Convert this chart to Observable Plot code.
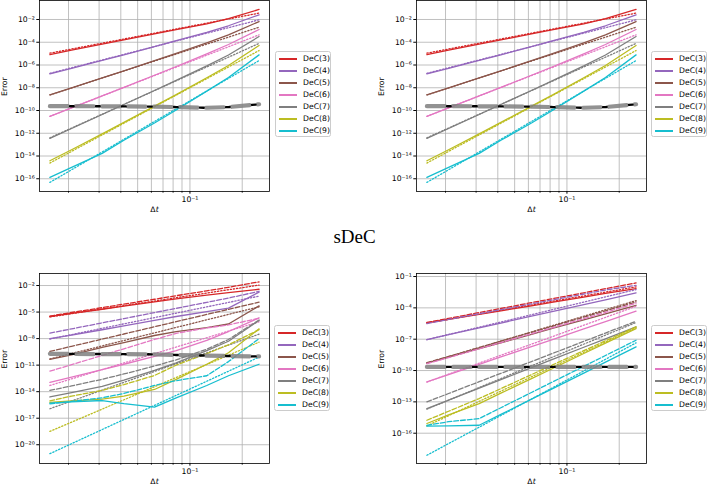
<!DOCTYPE html>
<html><head><meta charset="utf-8">
<script src="https://cdn.jsdelivr.net/npm/d3@7"></script>
<script src="https://cdn.jsdelivr.net/npm/@observablehq/plot@0.6"></script>
<style>
body{margin:0;background:#fff;}
#wrap{position:relative;width:709px;height:486px;overflow:hidden;font-family:"DejaVu Sans",sans-serif;background:#fff;}
.panel{position:absolute;}
.legend{position:absolute;background:rgba(255,255,255,0.85);border:0.8px solid #cccccc;border-radius:2.5px;box-sizing:border-box;font-size:7.7px;color:#000;width:56px;height:86px;}
.legend .row{position:absolute;left:0;width:100%;height:12px;}
.legend .sw{position:absolute;left:3px;top:5.4px;width:18px;height:1.4px;}
.legend .lab{position:absolute;left:27px;top:0;line-height:12px;white-space:nowrap;}
#title{position:absolute;left:0;width:709px;text-align:center;top:226px;line-height:22px;font-family:"Liberation Serif",serif;font-size:19px;}
</style></head><body><div id="wrap"><div id="title">sDeC</div></div>
<script>
// ---- data (errors given as log10 exponents) ----
const dt = [1/64, 1/48, 1/32, 1/24, 1/16, 1/12, 1/8, 1/6, 1/4];
const dtEnds = [1/64, 1/4];
const orders = ["DeC(3)","DeC(4)","DeC(5)","DeC(6)","DeC(7)","DeC(8)","DeC(9)"];
const colors = ["#d62728","#9467bd","#8c564b","#e377c2","#7f7f7f","#bcbd22","#17becf"];

// top row (both panels show the same data)
const topSolidExp = [
 [-5.08,-4.70,-4.17,-3.80,-3.26,-2.90,-2.38,-1.92,-1.12],
 [-6.78,-6.30,-5.60,-5.10,-4.38,-3.86,-3.13,-2.55,-1.59],
 [-8.63,-8.02,-7.14,-6.52,-5.62,-4.98,-4.05,-3.35,-2.18],
 [-10.51,-9.77,-8.72,-7.97,-6.90,-6.13,-5.02,-4.20,-2.88],
 [-12.45,-11.58,-10.35,-9.47,-8.24,-7.35,-6.08,-5.12,-3.50],
 [-14.42,-13.45,-12.05,-11.05,-9.62,-8.60,-7.12,-6.04,-4.29],
 [-15.88,-15.00,-13.77,-12.62,-11.10,-9.95,-8.30,-7.10,-5.11]
];
const topDottedExp = [[-4.96,-1.44],[-6.73,-2.03],[-8.63,-2.68],[-10.51,-3.35],[-12.40,-4.10],[-14.62,-4.73],[-16.32,-5.61]];
const topRoundoffExp = [-9.62,-9.62,-9.63,-9.64,-9.66,-9.70,-9.76,-9.70,-9.45];

// bottom-left
const blSolidExp = [
 [-5.50,-5.15,-4.68,-4.33,-3.85,-3.52,-3.08,-2.80,-2.42],
 [-8.00,-7.60,-7.00,-6.55,-5.95,-5.50,-4.95,-4.55,-2.75],
 [-10.35,-9.85,-9.00,-8.45,-7.65,-7.20,-6.75,-6.35,-4.30],
 [-12.95,-12.35,-11.50,-10.90,-10.00,-9.35,-8.20,-7.20,-5.65],
 [-14.60,-14.10,-13.40,-12.70,-11.60,-10.75,-9.35,-8.30,-5.95],
 [-15.20,-15.05,-14.85,-14.50,-13.75,-12.60,-10.90,-9.60,-6.90],
 [-15.30,-15.15,-15.00,-15.35,-15.75,-14.70,-13.30,-12.20,-10.90]
];
const blDashedExp = [
 [-5.45,-5.05,-4.50,-4.10,-3.55,-3.15,-2.60,-2.20,-1.58],
 [-7.38,-6.90,-6.22,-5.74,-5.06,-4.58,-3.90,-3.42,-2.65],
 [-9.45,-8.87,-8.06,-7.48,-6.66,-6.08,-5.27,-4.69,-3.88],
 [-11.68,-10.95,-9.90,-9.15,-8.10,-7.40,-6.80,-6.45,-5.70],
 [-13.86,-13.35,-12.60,-12.00,-11.10,-10.40,-9.20,-8.10,-5.90],
 [-15.05,-14.50,-13.86,-13.20,-12.17,-11.00,-9.70,-8.70,-7.00],
 [-15.37,-15.10,-14.69,-14.20,-13.30,-12.75,-12.20,-10.60,-8.00]
];
const blDottedExp = [[-5.55,-1.95],[-8.05,-3.20],[-10.30,-4.40],[-13.30,-6.10],[-15.93,-7.50],[-18.49,-8.40],[-21.01,-10.09]];
const blRoundoffExp = [-9.72,-9.73,-9.75,-9.76,-9.78,-9.85,-9.92,-9.97,-10.02];

// bottom-right
const brSolidExp = [
 [-5.44,-5.10,-4.62,-4.28,-3.80,-3.46,-2.98,-2.62,-2.15],
 [-7.03,-6.57,-5.92,-5.45,-4.80,-4.34,-3.69,-3.23,-2.56],
 [-9.30,-8.72,-7.91,-7.34,-6.53,-5.95,-5.14,-4.57,-3.75],
 [-11.09,-10.39,-9.40,-8.70,-7.71,-7.01,-6.02,-5.31,-4.32],
 [-13.64,-12.83,-11.68,-10.87,-9.72,-8.91,-7.77,-6.96,-5.82],
 [-15.07,-14.25,-13.16,-12.17,-10.77,-9.78,-8.37,-7.38,-5.98],
 [-15.33,-15.30,-15.24,-14.20,-12.74,-11.70,-10.24,-9.20,-7.73]
];
const brDashedExp = [
 [-5.40,-5.01,-4.45,-4.06,-3.50,-3.11,-2.56,-2.16,-1.61],
 [-5.50,-5.11,-4.56,-4.17,-3.62,-3.23,-2.68,-2.29,-1.85],
 [-9.25,-8.65,-7.80,-7.19,-6.34,-5.74,-4.89,-4.28,-3.43],
 [-9.35,-8.76,-7.92,-7.32,-6.48,-5.88,-5.04,-4.44,-3.55],
 [-13.00,-12.20,-11.07,-10.27,-9.14,-8.34,-7.21,-6.41,-5.28],
 [-14.76,-13.90,-12.68,-11.73,-10.39,-9.44,-8.10,-7.15,-5.82],
 [-15.24,-14.90,-14.60,-13.56,-12.10,-11.06,-9.60,-8.56,-7.10]
];
const brDottedExp = [[-5.45,-1.99],[-7.05,-2.25],[-9.30,-3.30],[-11.10,-3.85],[-13.70,-5.40],[-15.30,-5.90],[-18.11,-7.35]];
const brRoundoffExp = [-9.65,-9.65,-9.65,-9.65,-9.65,-9.65,-9.65,-9.65,-9.65];

// tick values (log10 exponents) and x grid ticks
const topYTicks = [-2,-4,-6,-8,-10,-12,-14,-16];
const blYTicks = [-2,-5,-8,-11,-14,-17,-20];
const brYTicks = [-1,-4,-7,-10,-13,-16];
const xMajorTicks = [0.1];
const xMinorTicks = [0.02,0.03,0.04,0.05,0.06,0.07,0.08,0.09,0.2];
const xDomainExp = [-1.866, -0.542];

// ---- drawing ----
const supMap = {"-":"\u207B","0":"\u2070","1":"\u00B9","2":"\u00B2","3":"\u00B3","4":"\u2074","5":"\u2075","6":"\u2076","7":"\u2077","8":"\u2078","9":"\u2079"};
const pow10Label = e => "10" + String(e).split("").map(c => supMap[c]).join("");
const wrap = document.getElementById("wrap");

function toRows(xs, exps){ return exps.map((v,j) => ({dt: xs[j], err: Math.pow(10, v)})); }

function panel({left, top, solid, dashed, dotted, roundoff, yDomainExp, yTicks, frameH}){
  const W = 275, mL = 39, mR = 6, mT = 10, mB = 24;
  const marks = [
    Plot.gridX(xMinorTicks.concat(xMajorTicks), {stroke:"#b0b0b0", strokeOpacity:1, strokeWidth:0.8}),
    Plot.gridY(yTicks.map(e => Math.pow(10,e)), {stroke:"#b0b0b0", strokeOpacity:1, strokeWidth:0.8})
  ];
  for (let i = 0; i < orders.length; i++) {
    marks.push(Plot.line(toRows(dt, solid[i]), {x:"dt", y:"err", stroke:colors[i], strokeWidth:1.3, clip:true}));
    if (dashed) marks.push(Plot.line(toRows(dt, dashed[i]), {x:"dt", y:"err", stroke:colors[i], strokeWidth:1.3, strokeDasharray:"4.8,2", clip:true}));
    marks.push(Plot.line(toRows(dtEnds, dotted[i]), {x:"dt", y:"err", stroke:colors[i], strokeWidth:1.3, strokeDasharray:"1.3,1.9", clip:true}));
  }
  const ro = toRows(dt, roundoff);
  marks.push(Plot.line(ro, {x:"dt", y:"err", stroke:"#7f7f7f", strokeOpacity:0.85, strokeWidth:4.2, strokeDasharray:"18,8", clip:true}));
  marks.push(Plot.line(ro, {x:"dt", y:"err", stroke:"#000", strokeWidth:2.4, strokeDasharray:"3.5,22.5", strokeDashoffset:-20.2, clip:true}));
  marks.push(Plot.axisY(yTicks.map(e => Math.pow(10,e)), {anchor:"left", tickSize:2.7, tickPadding:2, tickFormat: d => pow10Label(Math.round(Math.log10(d))), label:null}));
  marks.push(Plot.axisX(xMinorTicks, {anchor:"bottom", tickSize:1.6, tickFormat: () => "", label:null}));
  marks.push(Plot.axisX(xMajorTicks, {anchor:"bottom", tickSize:2.7, tickPadding:2, tickFormat: () => pow10Label(-1), label:null}));
  marks.push(Plot.text(["Error"], {frameAnchor:"left", dx:-35, rotate:-90, fontSize:7.7}));
  marks.push(Plot.text(["\u0394t"], {frameAnchor:"bottom", dy:20, fontSize:7.7}));
  marks.push(Plot.frame({stroke:"#000", strokeWidth:0.8}));
  const svg = Plot.plot({
    width: W, height: mT + frameH + mB,
    marginLeft: mL, marginRight: mR, marginTop: mT, marginBottom: mB,
    style: {fontFamily:"DejaVu Sans, sans-serif", fontSize:"7.7px", background:"transparent", overflow:"visible", color:"#000"},
    x: {type:"log", domain: xDomainExp.map(e => Math.pow(10,e)), axis:null},
    y: {type:"log", domain: yDomainExp.map(e => Math.pow(10,e)), axis:null},
    marks
  });
  // italic t in the Δt label
  svg.querySelectorAll("text").forEach(t => {
    if (t.textContent === "\u0394t") {
      t.textContent = "\u0394";
      const ts = document.createElementNS("http://www.w3.org/2000/svg", "tspan");
      ts.setAttribute("font-style", "italic");
      ts.textContent = "t";
      t.appendChild(ts);
    }
  });
  svg.classList.add("panel");
  svg.style.left = left + "px";
  svg.style.top = (top - mT) + "px";
  wrap.appendChild(svg);
}

function legend(left, top){
  const box = document.createElement("div");
  box.className = "legend";
  box.style.left = left + "px";
  box.style.top = top + "px";
  orders.forEach((name, i) => {
    const row = document.createElement("div");
    row.className = "row";
    row.style.top = (1 + 12*i) + "px";
    const sw = document.createElement("div");
    sw.className = "sw"; sw.style.backgroundColor = colors[i];
    const lab = document.createElement("div");
    lab.className = "lab"; lab.textContent = name;
    row.appendChild(sw); row.appendChild(lab);
    box.appendChild(row);
  });
  wrap.appendChild(box);
}

panel({left:0, top:0, solid:topSolidExp, dotted:topDottedExp, roundoff:topRoundoffExp, yDomainExp:[-17.12,-0.33], yTicks:topYTicks, frameH:191});
panel({left:377, top:0, solid:topSolidExp, dotted:topDottedExp, roundoff:topRoundoffExp, yDomainExp:[-17.12,-0.33], yTicks:topYTicks, frameH:191});
panel({left:0, top:273, solid:blSolidExp, dashed:blDashedExp, dotted:blDottedExp, roundoff:blRoundoffExp, yDomainExp:[-22.12,-0.64], yTicks:blYTicks, frameH:190});
panel({left:377, top:273, solid:brSolidExp, dashed:brDashedExp, dotted:brDottedExp, roundoff:brRoundoffExp, yDomainExp:[-18.9,-0.71], yTicks:brYTicks, frameH:190});
legend(275, 51);
legend(651, 51);
legend(274, 325);
legend(651, 325);
</script></body></html>
